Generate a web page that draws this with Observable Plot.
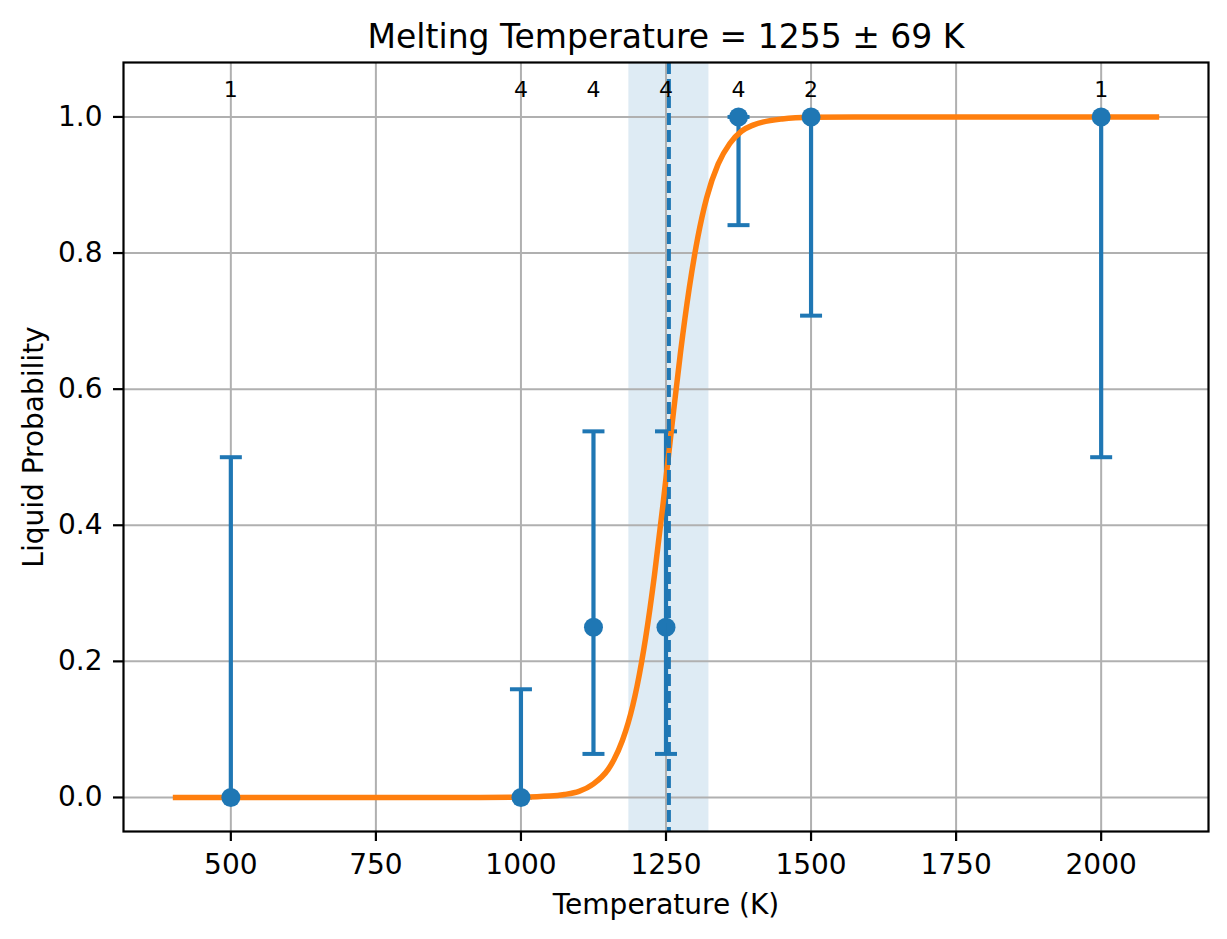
<!DOCTYPE html>
<html>
<head>
<meta charset="utf-8">
<script src="https://cdn.jsdelivr.net/npm/d3@7"></script>
<script src="https://cdn.jsdelivr.net/npm/@observablehq/plot@0.6"></script>
<style>
  html, body { margin: 0; padding: 0; background: white; }
</style>
</head>
<body>
<div id="chart"></div>
<script>
// Observed points
const temps = [500, 1000, 1125, 1250, 1375, 1500, 2000];
const probs = [0, 0, 0.25, 0.25, 1, 1, 1];
const errLow = [0, 0, 0.064, 0.064, 0.841, 0.708, 0.5];
const errHigh = [0.5, 0.159, 0.538, 0.538, 1, 1, 1];
const counts = [1, 4, 4, 4, 4, 2, 1];

// Fitted curve
const curveT = [400, 900, 1000, 1050, 1075, 1100, 1125, 1150, 1160, 1175, 1185, 1200, 1215, 1230, 1245, 1260, 1275, 1290, 1305, 1320, 1340, 1360, 1380, 1400, 1450, 1500, 1600, 2100];
const curveP = [0, 0, 0.0005, 0.002, 0.0044, 0.009, 0.02, 0.041, 0.055, 0.084, 0.11, 0.163, 0.235, 0.326, 0.432, 0.545, 0.654, 0.748, 0.824, 0.881, 0.931, 0.961, 0.979, 0.988, 0.997, 0.9994, 1, 1];

// Melting temperature estimate
const meltT = 1255;
const meltErr = 69;

// Ticks
const xTicks = [500, 750, 1000, 1250, 1500, 1750, 2000];
const yTicks = [0, 0.2, 0.4, 0.6, 0.8, 1.0];

const titleText = `Melting Temperature = ${meltT} ± ${meltErr} K`;

const points = temps.map((t, i) => ({T: t, p: probs[i], lo: errLow[i], hi: errHigh[i], n: counts[i]}));
const curve = curveT.map((t, i) => ({T: t, p: curveP[i]}));

const blue = "#1f77b4";
const orange = "#ff7f0e";

const capSymbol = {
  draw(context, size) {
    const w = Math.sqrt(size / Math.PI);
    context.moveTo(-w, 0);
    context.lineTo(w, 0);
  }
};

const chart = Plot.plot({
  width: 1227,
  height: 939,
  marginLeft: 123,
  marginRight: 19,
  marginTop: 62,
  marginBottom: 108,
  style: {fontFamily: "DejaVu Sans", fontSize: "28px", background: "white", color: "black"},
  x: {domain: [315, 2185]},
  y: {domain: [-0.05, 1.08]},
  marks: [
    Plot.rect([{x1: meltT - meltErr, x2: meltT + meltErr}], {x1: "x1", x2: "x2", fill: blue, fillOpacity: 0.15}),
    Plot.gridX(xTicks, {stroke: "#b0b0b0", strokeOpacity: 1, strokeWidth: 2}),
    Plot.gridY(yTicks, {stroke: "#b0b0b0", strokeOpacity: 1, strokeWidth: 2}),
    Plot.axisX(xTicks, {tickSize: 10, tickPadding: 13, tickFormat: d => String(d), fontSize: 28, stroke: "black", strokeWidth: 2.2, label: null}),
    Plot.axisY(yTicks, {tickSize: 10, tickPadding: 11, tickFormat: d3.format(".1f"), fontSize: 28, stroke: "black", strokeWidth: 2.2, label: null}),
    Plot.ruleX(points, {x: "T", y1: "lo", y2: "hi", stroke: blue, strokeWidth: 4.2}),
    Plot.dot(points, {x: "T", y: "lo", symbol: capSymbol, r: 11, fill: "none", stroke: blue, strokeWidth: 4}),
    Plot.dot(points, {x: "T", y: "hi", symbol: capSymbol, r: 11, fill: "none", stroke: blue, strokeWidth: 4}),
    Plot.line(curve, {x: "T", y: "p", stroke: orange, strokeWidth: 5.5, strokeLinecap: "butt", curve: "monotone-x"}),
    Plot.dot(points, {x: "T", y: "p", r: 9.5, fill: blue, stroke: "none"}),
    Plot.ruleX([meltT], {stroke: blue, strokeWidth: 4, strokeDasharray: "12,5"}),
    Plot.text(points, {x: "T", y: () => 1.03, text: d => String(d.n), lineAnchor: "bottom", fontSize: 22, fill: "black"}),
    Plot.frame({stroke: "black", strokeWidth: 2.2}),
    Plot.text([titleText], {frameAnchor: "top", textAnchor: "middle", lineAnchor: "bottom", dy: -15, fontSize: 33, fill: "black"}),
    Plot.text(["Temperature (K)"], {frameAnchor: "bottom", textAnchor: "middle", lineAnchor: "bottom", dy: 82, fontSize: 28, fill: "black"}),
    Plot.text(["Liquid Probability"], {frameAnchor: "left", textAnchor: "middle", lineAnchor: "bottom", rotate: -90, dx: -81, fontSize: 28, fill: "black"})
  ]
});

document.getElementById("chart").appendChild(chart);
</script>
</body>
</html>
